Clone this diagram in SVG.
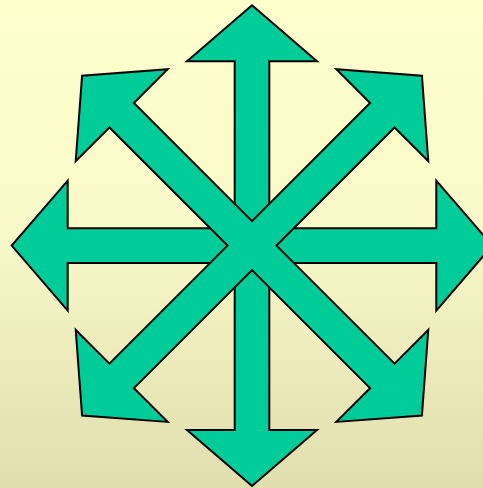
<svg xmlns="http://www.w3.org/2000/svg" width="483" height="488" viewBox="0 0 483 488">
  <defs>
    <linearGradient id="bg" x1="0" y1="0" x2="0" y2="1">
      <stop offset="0" stop-color="#FFFFCC"/>
      <stop offset="0.45" stop-color="#FAF9C9"/>
      <stop offset="1" stop-color="#E0DDAE"/>
    </linearGradient>
    <style>
      .arrow { fill: #00CC99; stroke: #000000; stroke-width: 2; stroke-linejoin: miter; }
    </style>
    <polygon id="quad" class="arrow" points="0,-240.3 65,-184.3 17.3,-184.3 17.3,-17.3 184.3,-17.3 184.3,-65 240.3,0 184.3,65 184.3,17.3 17.3,17.3 17.3,184.3 65,184.3 0,240.3 -65,184.3 -17.3,184.3 -17.3,17.3 -184.3,17.3 -184.3,65 -240.3,0 -184.3,-65 -184.3,-17.3 -17.3,-17.3 -17.3,-184.3 -65,-184.3"/>
  </defs>
  <rect x="0" y="0" width="483" height="488" fill="url(#bg)"/>
  <g id="orthogonal-arrows" transform="translate(252 245.6)">
    <use href="#quad"/>
  </g>
  <g id="diagonal-arrows" transform="translate(252 245.6) rotate(45)">
    <use href="#quad"/>
  </g>
</svg>
